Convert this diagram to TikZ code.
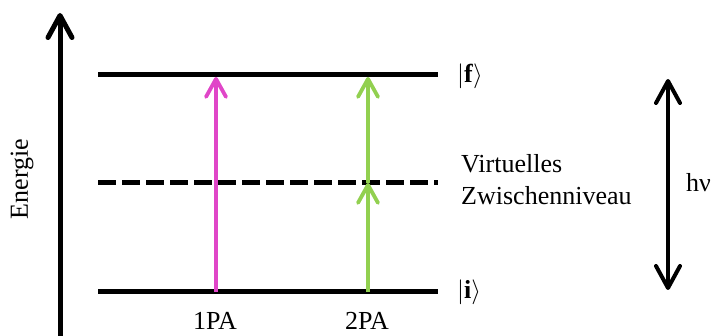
\documentclass[tikz,border=0pt]{standalone}
\usepackage{fontspec}
\setmainfont{Liberation Serif}
\usetikzlibrary{arrows.meta}
\definecolor{pinkpa}{HTML}{E046C8}
\definecolor{greenpa}{HTML}{92D050}
\begin{document}
\begin{tikzpicture}[x=1pt,y=-1pt,
  level/.style={line width=5pt},
  virtlevel/.style={line width=5pt,dash pattern=on 17.5pt off 6.5pt},
  bigtip/.tip={Straight Barb[length=22pt,width=24pt,round]},
  smalltip/.tip={Straight Barb[length=18pt,width=20pt,round]},
  axis/.style={line width=5pt,-{bigtip}},
  gap/.style={line width=4pt,{bigtip}-{bigtip}},
  excite/.style={line width=3.8pt,-{smalltip}},
  lbl/.style={inner sep=0pt,font=\fontsize{26}{32}\selectfont}]
\useasboundingbox (0,0) rectangle (712,336);

% energy axis
\coordinate (axbot) at (60,345);
\coordinate (axtop) at (60,13);
\draw[axis] (axbot) -- (axtop);
\node[lbl,rotate=90] (energie) at (22,179) {Energie};

% levels
\coordinate (fL) at (98,75);  \coordinate (fR) at (438,75);
\coordinate (vL) at (98,183); \coordinate (vR) at (438,183);
\coordinate (iL) at (98,292); \coordinate (iR) at (438,292);
\draw[level] (fL) -- (fR);
\draw[virtlevel] (vL) -- (vR);
\draw[level] (iL) -- (iR);

\node[lbl,anchor=west] (fstate) at (457,76) {$|$\textbf{f}$\rangle$};
\node[lbl,anchor=west] (istate) at (457,292) {$|$\textbf{i}$\rangle$};
\node[lbl,anchor=base west,align=left] (virt) at (461,205) {Virtuelles\\Zwischenniveau};

% one-photon absorption
\coordinate (p0) at (216,292); \coordinate (p1) at (216,77);
\draw[excite,pinkpa] (p0) -- (p1);
\node[lbl,anchor=base] (onepa) at (215,330) {1PA};

% two-photon absorption
\coordinate (g0) at (368,292); \coordinate (g1) at (368,183); \coordinate (g2) at (368,77);
\draw[excite,greenpa] (g0) -- (g1);
\draw[excite,greenpa] (g1) -- (g2);
\node[lbl,anchor=base] (twopa) at (367,330) {2PA};

% photon energy
\coordinate (h0) at (668,290); \coordinate (h1) at (668,79);
\draw[gap] (h0) -- (h1);
\node[lbl,anchor=base west] (hnu) at (686,192) {hν};
\end{tikzpicture}
\end{document}
